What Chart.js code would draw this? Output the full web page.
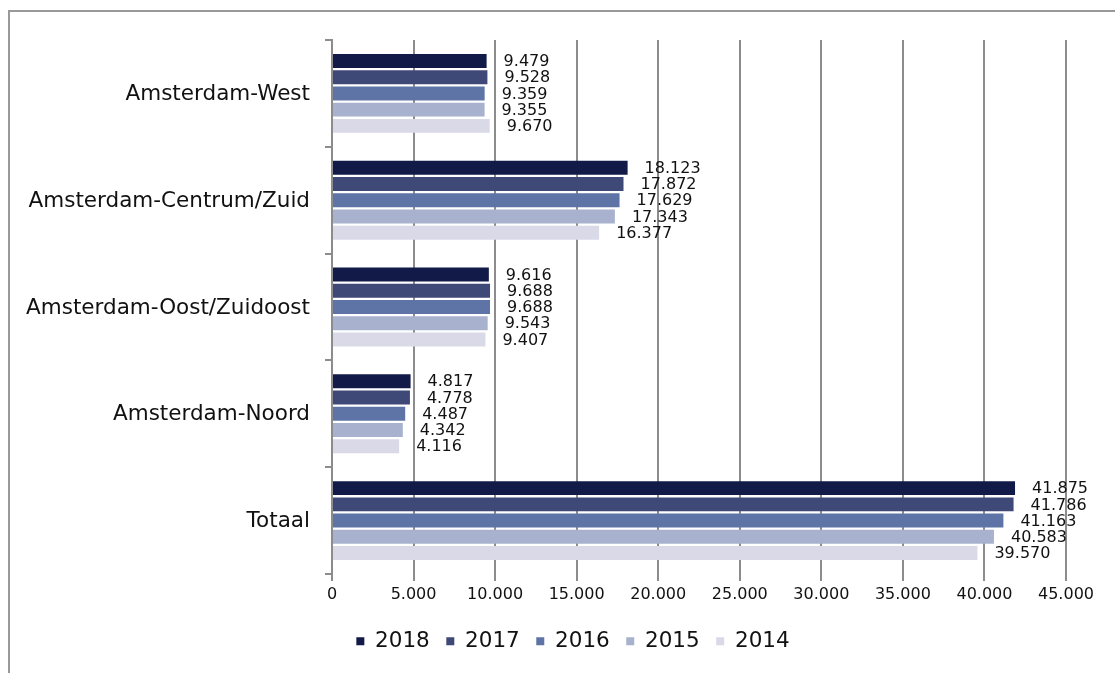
<!DOCTYPE html>
<html>
<head>
<meta charset="utf-8">
<script src="https://cdn.jsdelivr.net/npm/chart.js@4/dist/chart.umd.min.js"></script>
<style>
  html, body { margin: 0; padding: 0; background: #fff; overflow: hidden; }
  #wrap { position: relative; width: 1115px; height: 673px; }
  #frame { position: absolute; left: 8px; top: 10px; width: 1200px; height: 800px; border: 2px solid #999; box-sizing: border-box; }
  canvas { position: absolute; left: 0; top: 0; }
</style>
</head>
<body>
<div id="wrap">
  <div id="frame"></div>
  <canvas id="grafiek" width="1115" height="673"></canvas>
</div>
<script>
// gebieden (van boven naar beneden)
var gebieden = ['Amsterdam-West', 'Amsterdam-Centrum/Zuid', 'Amsterdam-Oost/Zuidoost', 'Amsterdam-Noord', 'Totaal'];

var jaren = ['2018', '2017', '2016', '2015', '2014'];

var w2018 = [9479, 18123, 9616, 4817, 41875];
var w2017 = [9528, 17872, 9688, 4778, 41786];
var w2016 = [9359, 17629, 9688, 4487, 41163];
var w2015 = [9355, 17343, 9543, 4342, 40583];
var w2014 = [9670, 16377, 9407, 4116, 39570];

var kleuren = ['#121a47', '#3f4978', '#5e74a6', '#a8b2ce', '#dad9e8'];

var asMax = 45000;
var asStap = 5000;

// 12345 -> "12.345"
function punten(n) {
    var s = String(Math.round(n));
    return s.replace(/\B(?=(\d{3})+(?!\d))/g, '.');
}

var reeksen = [w2018, w2017, w2016, w2015, w2014];
var datasets = [];
for (var i = 0; i < reeksen.length; i++) {
    datasets.push({
        label: jaren[i],
        data: reeksen[i],
        backgroundColor: kleuren[i],
        borderWidth: 0,
        categoryPercentage: 0.76,
        barPercentage: 0.86
    });
}

// waarden rechts naast de balken
var labelsPlugin = {
    id: 'waardeLabels',
    afterDatasetsDraw: function(chart) {
        var ctx = chart.ctx;
        ctx.save();
        ctx.font = '16px "DejaVu Sans"';
        ctx.fillStyle = '#111';
        ctx.textAlign = 'left';
        ctx.textBaseline = 'middle';
        chart.data.datasets.forEach(function(ds, d) {
            var meta = chart.getDatasetMeta(d);
            meta.data.forEach(function(bar, j) {
                ctx.fillText(punten(ds.data[j]), bar.x + 17, bar.y + 1);
            });
        });
        ctx.restore();
    }
};

// gebiedsnamen links van de as (as-labels worden anders afgeknipt)
var gebiedPlugin = {
    id: 'gebiedLabels',
    afterDraw: function(chart) {
        var ctx = chart.ctx;
        var y = chart.scales.y;
        ctx.save();
        ctx.font = '21.5px "DejaVu Sans"';
        ctx.fillStyle = '#111';
        ctx.textAlign = 'right';
        ctx.textBaseline = 'middle';
        chart.data.labels.forEach(function(lbl, j) {
            ctx.fillText(lbl, y.right - 22, y.getPixelForValue(j) + 1);
        });
        ctx.restore();
    }
};

new Chart(document.getElementById('grafiek').getContext('2d'), {
    type: 'bar',
    data: {
        labels: gebieden,
        datasets: datasets
    },
    options: {
        indexAxis: 'y',
        responsive: false,
        animation: false,
        layout: {
            padding: { left: 80, right: 49, top: 40, bottom: 11 }
        },
        scales: {
            x: {
                min: 0,
                max: asMax,
                afterFit: function(axis) { axis.height = 40; },
                ticks: {
                    stepSize: asStap,
                    color: '#111',
                    font: { family: 'DejaVu Sans', size: 16 },
                    padding: 4,
                    callback: function(v) { return punten(v); }
                },
                grid: {
                    color: '#8c8c8c',
                    lineWidth: 2,
                    tickLength: 7
                },
                border: { display: false }
            },
            y: {
                afterFit: function(axis) { axis.width = 252; },
                ticks: { display: false },
                grid: {
                    offset: true,
                    drawOnChartArea: false,
                    color: '#8c8c8c',
                    lineWidth: 2,
                    tickLength: 7
                },
                border: { display: true, color: '#8c8c8c', width: 2 }
            }
        },
        plugins: {
            legend: {
                position: 'bottom',
                labels: {
                    boxWidth: 8,
                    boxHeight: 8,
                    padding: 16.5,
                    color: '#111',
                    font: { family: 'DejaVu Sans', size: 21.5 }
                }
            },
            tooltip: { enabled: false }
        }
    },
    plugins: [labelsPlugin, gebiedPlugin]
});
</script>
</body>
</html>
